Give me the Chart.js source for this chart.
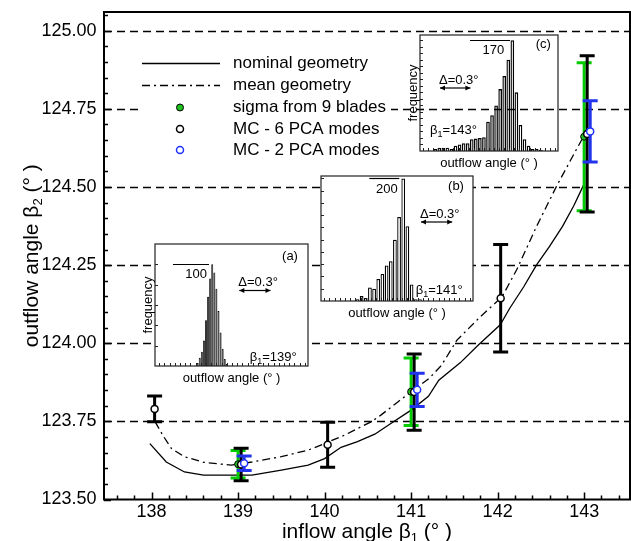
<!DOCTYPE html>
<html>
<head>
<meta charset="utf-8">
<script src="https://cdn.jsdelivr.net/npm/chart.js@4.4.1/dist/chart.umd.min.js"></script>
<style>
  body { margin: 0; background: #fff; }
  #wrap { position: relative; width: 631px; height: 541px; overflow: hidden; }
  #wrap canvas { position: absolute; }
</style>
</head>
<body>
<div id="wrap">
  <canvas id="main" width="631" height="541" style="left:0;top:0"></canvas>
  <canvas id="histA"></canvas>
  <canvas id="histB"></canvas>
  <canvas id="histC"></canvas>
</div>
<script>
const FONT = '"Liberation Sans", Arial, Helvetica, sans-serif';
Chart.defaults.font.family = FONT;
Chart.defaults.color = '#000';

// main plot: inflow angle beta1 -> outflow angle beta2
const xTicks = [138, 139, 140, 141, 142, 143];
const yTicks = [123.5, 123.75, 124.0, 124.25, 124.5, 124.75, 125.0];

const nominalBeta1 = [137.98, 138.17, 138.38, 138.6, 138.9, 139.16, 139.5, 139.81, 140.0, 140.19, 140.38, 140.58, 140.77, 141.0, 141.2, 141.32, 141.57, 141.78, 142.03, 142.14, 142.3, 142.45, 142.6, 142.75, 142.88, 143.0];
const nominalBeta2 = [123.679, 123.62, 123.588, 123.578, 123.578, 123.578, 123.594, 123.61, 123.631, 123.667, 123.685, 123.709, 123.744, 123.786, 123.83, 123.882, 123.938, 123.995, 124.059, 124.112, 124.18, 124.251, 124.31, 124.374, 124.44, 124.51];

const meanBeta1 = [138.04, 138.14, 138.23, 138.38, 138.6, 138.92, 139.16, 139.5, 139.81, 140.0, 140.23, 140.54, 140.65, 140.85, 141.0, 141.21, 141.35, 141.53, 141.8, 142.05, 142.22, 142.45, 142.68, 142.91, 143.0];
const meanBeta2 = [123.749, 123.701, 123.663, 123.637, 123.619, 123.61, 123.62, 123.637, 123.658, 123.679, 123.706, 123.749, 123.77, 123.813, 123.845, 123.888, 123.929, 124.01, 124.085, 124.148, 124.235, 124.374, 124.502, 124.62, 124.665];

const mc6Beta1 = [138, 139, 140, 141, 142, 143];
const mc6Beta2 = [123.79, 123.612, 123.675, 123.844, 124.144, 124.67];
const mc6Sigma = [0.041, 0.052, 0.072, 0.122, 0.172, 0.25];

const bladeBeta1 = [139, 141, 143];
const bladeBeta2 = [123.613, 123.845, 124.661];
const bladeSigma = [0.044, 0.108, 0.237];

const mc2Beta1 = [139, 141, 143];
const mc2Beta2 = [123.616, 123.851, 124.678];
const mc2Sigma = [0.023, 0.053, 0.098];

// histograms of the outflow angle (insets a, b, c)
const histA = [3, 8, 14, 25, 45, 68, 86, 100, 92, 76, 54, 33, 17, 7, 2];
const histB = [3, 8, 5, 22, 20, 36, 44, 58, 65, 100, 137, 200, 122, 27, 3, 3];
const histC = [3, 5, 5, 5, 3, 8, 10, 12, 12, 18, 19, 20, 21, 45, 55, 70, 95, 115, 140, 170, 90, 40, 18, 8, 3, 3, 2];

// small horizontal shift so overlapping error bars stay visible
const SHIFT_MC6 = 0.035, SHIFT_MC2 = 0.07;

function errPoints(xs, ys, sig, dx) {
  return xs.map((x, i) => ({ x: x + dx, y: ys[i], lo: ys[i] - sig[i], hi: ys[i] + sig[i] }));
}

// draws text made of pieces (for subscripts)
function richText(ctx, parts, x, y, align) {
  let w = 0;
  parts.forEach(p => { ctx.font = p.size + 'px ' + FONT; p.w = ctx.measureText(p.t).width; w += p.w; });
  let cx = align === 'center' ? x - w / 2 : align === 'right' ? x - w : x;
  ctx.textAlign = 'left';
  ctx.textBaseline = 'alphabetic';
  parts.forEach(p => {
    ctx.font = p.size + 'px ' + FONT;
    ctx.fillText(p.t, cx, y + (p.dy || 0));
    cx += p.w;
  });
}

const errorBars = {
  id: 'errorBars',
  beforeDatasetDraw(chart, args) {
    const ds = chart.data.datasets[args.index];
    if (!ds.errColor) return;
    const { ctx, scales: { x, y } } = chart;
    ctx.save();
    ctx.strokeStyle = ds.errColor;
    ctx.lineWidth = 3;
    ds.data.forEach(p => {
      const px = x.getPixelForValue(p.x);
      const top = y.getPixelForValue(p.hi), bot = y.getPixelForValue(p.lo);
      ctx.beginPath();
      ctx.moveTo(px, top); ctx.lineTo(px, bot);
      ctx.moveTo(px - 7.5, top); ctx.lineTo(px + 7.5, top);
      ctx.moveTo(px - 7.5, bot); ctx.lineTo(px + 7.5, bot);
      ctx.stroke();
    });
    ctx.restore();
  }
};

const dashedGrid = {
  id: 'dashedGrid',
  beforeDatasetsDraw(chart) {
    const { ctx, chartArea: a, scales: { y } } = chart;
    ctx.save();
    ctx.strokeStyle = '#000';
    ctx.lineWidth = 1.5;
    ctx.setLineDash([8, 5]);
    yTicks.slice(1).forEach(v => {
      const py = Math.round(y.getPixelForValue(v)) + 0.5;
      ctx.beginPath(); ctx.moveTo(a.left, py); ctx.lineTo(a.right, py); ctx.stroke();
    });
    ctx.restore();
  }
};

const legendBox = {
  id: 'legendBox',
  afterDatasetsDraw(chart) {
    const ctx = chart.ctx;
    ctx.save();
    ctx.fillStyle = '#fff';
    ctx.fillRect(141, 48, 250, 114);
    ctx.strokeStyle = '#000';
    ctx.lineWidth = 1.3;
    ctx.beginPath(); ctx.moveTo(142, 63.5); ctx.lineTo(220, 63.5); ctx.stroke();
    ctx.setLineDash([8, 4, 2, 4]);
    ctx.beginPath(); ctx.moveTo(142, 85.5); ctx.lineTo(220, 85.5); ctx.stroke();
    ctx.setLineDash([]);
    const marks = [[107.5, '#1fbf1f', '#000', 1], [129, '#fff', '#000', 1.5], [150, '#fff', '#2233ff', 1.5]];
    marks.forEach(m => {
      ctx.beginPath(); ctx.arc(180, m[0], 3.5, 0, Math.PI * 2);
      ctx.fillStyle = m[1]; ctx.fill();
      ctx.strokeStyle = m[2]; ctx.lineWidth = m[3]; ctx.stroke();
    });
    ctx.fillStyle = '#000';
    ctx.font = '17px ' + FONT;
    ctx.textAlign = 'left';
    ctx.textBaseline = 'middle';
    const labels = chart.data.datasets.map(d => d.label);
    [63.5, 85.5, 107.5, 129, 150].forEach((yy, i) => ctx.fillText(labels[i], 233, yy));
    ctx.restore();
  }
};

const frameAndTitles = {
  id: 'frameAndTitles',
  afterDraw(chart) {
    const { ctx, chartArea: a, scales: { x, y } } = chart;
    ctx.save();
    ctx.strokeStyle = '#000';
    ctx.lineWidth = 1.5;
    ctx.beginPath();
    for (let k = Math.ceil(x.min * 5); k <= Math.floor(x.max * 5); k++) {
      const px = Math.round(x.getPixelForValue(k / 5)) + 0.5;
      ctx.moveTo(px, a.bottom); ctx.lineTo(px, a.bottom - (k % 5 === 0 ? 7 : 4));
    }
    for (let k = Math.ceil(y.min * 20); k <= Math.floor(y.max * 20); k++) {
      const py = Math.round(y.getPixelForValue(k / 20)) + 0.5;
      ctx.moveTo(a.left, py); ctx.lineTo(a.left + (k % 5 === 0 ? 7 : 4), py);
    }
    ctx.stroke();
    ctx.lineWidth = 2;
    ctx.strokeRect(a.left, a.top, a.right - a.left, a.bottom - a.top);

    ctx.fillStyle = '#000';
    richText(ctx, [
      { t: 'inflow angle \u03b2', size: 21 }, { t: '1', size: 13, dy: 4 }, { t: ' (\u00b0 )', size: 21 }
    ], (a.left + a.right) / 2, 538, 'center');
    ctx.translate(37.5, (a.top + a.bottom) / 2);
    ctx.rotate(-Math.PI / 2);
    richText(ctx, [
      { t: 'outflow angle \u03b2', size: 21 }, { t: '2', size: 13, dy: 4 }, { t: ' (\u00b0 )', size: 21 }
    ], 0, 0, 'center');
    ctx.restore();
  }
};

new Chart(document.getElementById('main'), {
  type: 'scatter',
  data: {
    datasets: [
      {
        label: 'nominal geometry', order: 5,
        data: nominalBeta1.map((v, i) => ({ x: v, y: nominalBeta2[i] })),
        showLine: true, borderColor: '#000', borderWidth: 1.3, pointRadius: 0
      },
      {
        label: 'mean geometry', order: 4,
        data: meanBeta1.map((v, i) => ({ x: v, y: meanBeta2[i] })),
        showLine: true, borderColor: '#000', borderWidth: 1.3, borderDash: [8, 4, 2, 4], pointRadius: 0
      },
      {
        label: 'sigma from 9 blades', order: 3, errColor: '#00cc00',
        data: errPoints(bladeBeta1, bladeBeta2, bladeSigma, 0),
        pointRadius: 3.5, pointBackgroundColor: '#1fbf1f', pointBorderColor: '#000', pointBorderWidth: 1
      },
      {
        label: 'MC - 6 PCA modes', order: 2, errColor: '#000',
        data: errPoints(mc6Beta1, mc6Beta2, mc6Sigma, SHIFT_MC6),
        pointRadius: 3.5, pointBackgroundColor: '#fff', pointBorderColor: '#000', pointBorderWidth: 1.5
      },
      {
        label: 'MC - 2 PCA modes', order: 1, errColor: '#2233ee',
        data: errPoints(mc2Beta1, mc2Beta2, mc2Sigma, SHIFT_MC2),
        pointRadius: 3.5, pointBackgroundColor: '#fff', pointBorderColor: '#2233ff', pointBorderWidth: 1.5
      }
    ]
  },
  options: {
    responsive: false,
    animation: false,
    events: [],
    layout: { autoPadding: false, padding: { top: 12, right: 1, left: 0, bottom: 0 } },
    plugins: { legend: { display: false }, tooltip: { enabled: false } },
    scales: {
      x: {
        type: 'linear', min: 137.45, max: 143.53,
        afterFit: s => { s.height = 41.5; s.paddingLeft = 0; s.paddingRight = 0; },
        afterBuildTicks: s => { s.ticks = xTicks.map(v => ({ value: v })); },
        ticks: { font: { size: 18 }, color: '#000', padding: 2, maxRotation: 0, autoSkip: false },
        grid: { display: false, drawTicks: false },
        border: { display: false }
      },
      y: {
        type: 'linear', min: 123.5, max: 125.06,
        afterFit: s => { s.width = 104; s.paddingTop = 0; s.paddingBottom = 0; },
        afterBuildTicks: s => { s.ticks = yTicks.map(v => ({ value: v })); },
        ticks: { font: { size: 18 }, color: '#000', padding: 7.5, autoSkip: false, callback: v => Number(v).toFixed(2) },
        grid: { display: false, drawTicks: false },
        border: { display: false }
      }
    }
  },
  plugins: [errorBars, dashedGrid, legendBox, frameAndTitles]
});

// ---- insets ----
function makeInset(cfg) {
  const [L, T, R, B] = cfg.box;
  const padL = 28, padT = 4, padR = 4, padB = 22;
  const cv = document.getElementById(cfg.id);
  cv.width = R - L + padL + padR;
  cv.height = B - T + padT + padB;
  cv.style.left = (L - padL) + 'px';
  cv.style.top = (T - padT) + 'px';

  const insetDraw = {
    id: 'insetDraw',
    beforeDraw(chart) {
      if (!cfg.opaque) return;
      const a = chart.chartArea;
      chart.ctx.save();
      chart.ctx.fillStyle = '#fff';
      chart.ctx.fillRect(a.left, a.top, a.right - a.left, a.bottom - a.top);
      chart.ctx.restore();
    },
    afterDraw(chart) {
      const { ctx, chartArea: a, scales: { x, y } } = chart;
      ctx.save();
      ctx.strokeStyle = '#222';
      ctx.lineWidth = 1;
      ctx.beginPath();
      for (let v = cfg.yStep; v < y.max; v += cfg.yStep) {
        const py = Math.round(y.getPixelForValue(v)) + 0.5;
        ctx.moveTo(a.left, py); ctx.lineTo(a.left + 3, py);
      }
      for (let k = Math.ceil(x.min / 0.05); k * 0.05 < x.max; k++) {
        const px = Math.round(x.getPixelForValue(k * 0.05)) + 0.5;
        ctx.moveTo(px, a.bottom); ctx.lineTo(px, a.bottom - 3);
      }
      ctx.stroke();
      ctx.lineWidth = 1.2;
      ctx.strokeRect(a.left, a.top, a.right - a.left, a.bottom - a.top);

      // peak level line
      const ly = Math.round(y.getPixelForValue(cfg.level)) + 0.5;
      ctx.strokeStyle = '#000';
      ctx.beginPath(); ctx.moveTo(a.left + cfg.levelX[0], ly); ctx.lineTo(a.left + cfg.levelX[1], ly); ctx.stroke();

      // delta = 0.3 deg arrow
      const ax0 = a.left + cfg.arrow[0], ay = a.top + cfg.arrow[1];
      const ax1 = ax0 + (x.getPixelForValue(x.min + 0.3) - x.getPixelForValue(x.min));
      ctx.beginPath(); ctx.moveTo(ax0, ay); ctx.lineTo(ax1, ay); ctx.stroke();
      ctx.fillStyle = '#000';
      ctx.beginPath();
      ctx.moveTo(ax0, ay); ctx.lineTo(ax0 + 5, ay - 2.5); ctx.lineTo(ax0 + 5, ay + 2.5); ctx.closePath();
      ctx.moveTo(ax1, ay); ctx.lineTo(ax1 - 5, ay - 2.5); ctx.lineTo(ax1 - 5, ay + 2.5); ctx.closePath();
      ctx.fill();

      ctx.fillStyle = '#000';
      richText(ctx, [{ t: String(cfg.level), size: 13 }], a.left + cfg.levelText[0], ly + cfg.levelText[1], 'right');
      richText(ctx, [{ t: cfg.tag, size: 13 }], a.left + cfg.tagPos[0], a.top + cfg.tagPos[1], 'center');
      richText(ctx, [{ t: '\u0394=0.3\u00b0', size: 13 }], ax0 - 1, a.top + cfg.deltaY, 'left');
      richText(ctx, [{ t: '\u03b2', size: 13 }, { t: '1', size: 9, dy: 3 }, { t: '=' + cfg.beta1 + '\u00b0', size: 13 }],
        a.left + cfg.betaPos[0], a.top + cfg.betaPos[1], cfg.betaAlign);
      richText(ctx, [{ t: 'outflow angle (\u00b0 )', size: 13 }], (a.left + a.right) / 2, a.bottom + 16, 'center');
      if (cfg.freq) {
        ctx.translate(a.left - 3.5, (a.top + a.bottom) / 2);
        ctx.rotate(-Math.PI / 2);
        richText(ctx, [{ t: 'frequency', size: 13 }], 0, 0, 'center');
      }
      ctx.restore();
    }
  };

  new Chart(cv, {
    type: 'bar',
    data: {
      datasets: [{
        data: cfg.counts.map((c, i) => ({ x: cfg.binStart + (i + 0.5) * cfg.binWidth, y: c })),
        backgroundColor: cfg.fill, borderColor: '#000', borderWidth: cfg.bw,
        barPercentage: cfg.bp, categoryPercentage: 1
      }]
    },
    options: {
      responsive: false, animation: false, events: [],
      layout: { autoPadding: false, padding: { left: padL, top: padT, right: padR, bottom: padB } },
      plugins: { legend: { display: false }, tooltip: { enabled: false } },
      scales: {
        x: { type: 'linear', min: cfg.xMin, max: cfg.xMax, offset: false, grid: { offset: false }, display: false },
        y: { min: 0, max: cfg.yMax, display: false }
      }
    },
    plugins: [insetDraw]
  });
}

makeInset({
  id: 'histA', box: [155, 244, 308, 366.5], counts: histA, binStart: 123.46, binWidth: 0.02,
  xMin: 123.06, xMax: 124.53, yMax: 120, yStep: 20, fill: '#3c3c3c', bw: 0.8, bp: 0.95, opaque: true,
  tag: '(a)', tagPos: [135, 15.5], level: 100, levelX: [18, 54], levelText: [52, 13.5],
  arrow: [84.3, 46.5], deltaY: 42, beta1: 139, betaPos: [141.7, 116.7], betaAlign: 'right', freq: true
});
makeInset({
  id: 'histB', box: [321, 176, 473, 301], counts: histB, binStart: 123.45, binWidth: 0.04,
  xMin: 123.12, xMax: 124.58, yMax: 204, yStep: 20, fill: '#fff', bw: 1.3, bp: 0.9, opaque: true,
  tag: '(b)', tagPos: [135, 13.5], level: 200, levelX: [48.3, 78.3], levelText: [76.7, 14],
  arrow: [100, 46], deltaY: 41.5, beta1: 141, betaPos: [141.7, 118], betaAlign: 'right', freq: false
});
makeInset({
  id: 'histC', box: [420, 34.5, 558.5, 151], counts: histC, binStart: 124.0, binWidth: 0.04,
  xMin: 123.87, xMax: 125.23, yMax: 178, yStep: 10, fill: 'rgba(0,0,0,0)', bw: 1.3, bp: 0.9, opaque: false,
  tag: '(c)', tagPos: [123.3, 13], level: 170, levelX: [50, 90], levelText: [84.3, 13.5],
  arrow: [20, 53], deltaY: 48.5, beta1: 143, betaPos: [10, 98.8], betaAlign: 'left', freq: true
});
</script>
</body>
</html>
